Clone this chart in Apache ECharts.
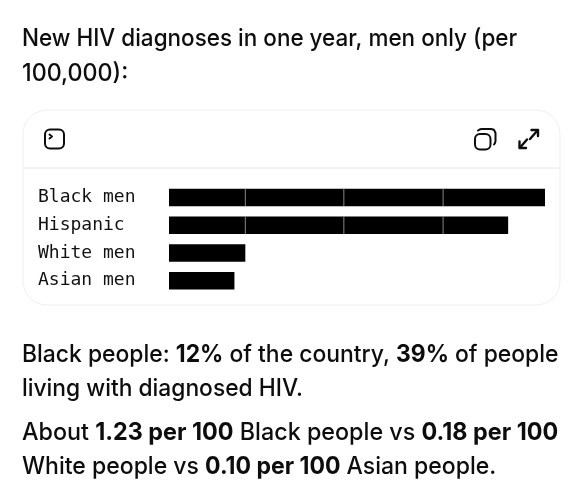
<!DOCTYPE html>
<html><head><meta charset="utf-8">
<style>html,body{margin:0;padding:0;background:#fff}#c{width:583px;height:500px}</style>
<script src="https://cdn.jsdelivr.net/npm/echarts@6/dist/echarts.min.js"></script>
</head><body><div id="c"></div>
<script>
const categories = ['Black men', 'Hispanic', 'White men', 'Asian men'];
const barValues = [100, 90.2, 20.3, 17.4];
const separatorsBlack = [20.3, 46.5, 72.9];
const separatorsHispanic = [20.3, 46.5, 72.9];
const titleLines = ['New HIV diagnoses in one year, men only (per', '100,000):'];
const proseLines = [
  '{r|Black people: }{b|12%}{r| of the country, }{b|39%}{r| of people}',
  '{r|living with diagnosed HIV.}',
  '{r|About }{b|1.23 per 100}{r| Black people vs }{b|0.18 per 100}',
  '{r|White people vs }{b|0.10 per 100}{r| Asian people.}'
];
const proseTops = [343, 377, 421, 455];
const titleTops = [27, 62];
const titleScale = [0.937, 0.97];
const proseScale = [0.954, 0.95, 0.972, 0.959];

const SANS = 'Inter';
const SIZE = 24;
const rich = {
  r: {fontFamily: SANS, fontSize: SIZE, fontWeight: 500, fill: '#0d0d0d'},
  b: {fontFamily: SANS, fontSize: SIZE, fontWeight: 700, fill: '#0d0d0d'}
};
const textItems = titleLines.map((t, i) => ({
  type: 'text', x: 22, y: titleTops[i], scaleX: titleScale[i],
  style: {text: t, fontFamily: SANS, fontSize: SIZE, fontWeight: 500, fill: '#0d0d0d'}
})).concat(proseLines.map((t, i) => ({
  type: 'text', x: 22, y: proseTops[i], scaleX: proseScale[i],
  style: {text: t, rich: rich}
})));
const icon = (pts, w) => ({type: 'polyline', shape: {points: pts},
  style: {fill: 'none', stroke: '#0d0d0d', lineWidth: w, lineCap: 'round', lineJoin: 'round'}});

const chart = echarts.init(document.getElementById('c'), null, {renderer: 'canvas'});
chart.setOption({
  animation: false,
  backgroundColor: '#fff',
  graphic: textItems.concat([
    {type: 'rect', shape: {x: 23, y: 110, width: 537, height: 195, r: 24},
      style: {fill: 'none', stroke: '#efefef', lineWidth: 1}},
    {type: 'line', shape: {x1: 23, y1: 168, x2: 560, y2: 168},
      style: {stroke: '#e8e8e8', lineWidth: 1}},
    {type: 'rect', shape: {x: 45, y: 129.5, width: 19, height: 19, r: 5},
      style: {fill: 'none', stroke: '#0d0d0d', lineWidth: 2}},
    icon([[49.5, 134.5], [52, 136.5], [49.5, 138.5]], 2),
    {type: 'rect', shape: {x: 475, y: 134, width: 15.5, height: 15.5, r: 5},
      style: {fill: 'none', stroke: '#0d0d0d', lineWidth: 2}},
    icon([[478, 130.5], [480, 129.3], [482, 129], [491, 129], [494, 129.8], [495.5, 133], [495.5, 141], [495, 143], [494, 144.5]], 2),
    icon([[530, 139], [537, 131]], 2.4),
    icon([[531.5, 130], [538, 130], [538, 136]], 2.4),
    icon([[527, 139.5], [520.5, 147]], 2.4),
    icon([[519.5, 141.5], [519.5, 148], [526, 148]], 2.4)
  ]),
  grid: {left: 169, top: 183.6, width: 376, height: 111},
  xAxis: {type: 'value', min: 0, max: 100, show: false},
  yAxis: {type: 'category', data: categories, inverse: true,
    axisLine: {show: false}, axisTick: {show: false},
    axisLabel: {align: 'left', margin: 131, padding: [3, 0, 0, 0], fontFamily: 'DejaVu Sans Mono', fontSize: 18, color: '#111'}},
  series: [
    {type: 'bar', name: 'Diagnoses', data: barValues, barWidth: 17.5,
      itemStyle: {color: '#000'}, silent: true},
    {type: 'scatter', name: 'Black separators', silent: true, z: 5,
      data: separatorsBlack.map(v => [v, categories[0]]),
      symbol: 'rect', symbolSize: [1, 17.5], itemStyle: {color: '#a8a8a8'}},
    {type: 'scatter', name: 'Hispanic separators', silent: true, z: 5,
      data: separatorsHispanic.map(v => [v, categories[1]]),
      symbol: 'rect', symbolSize: [1, 17.5], itemStyle: {color: '#a8a8a8'}}
  ]
});
</script></body></html>
